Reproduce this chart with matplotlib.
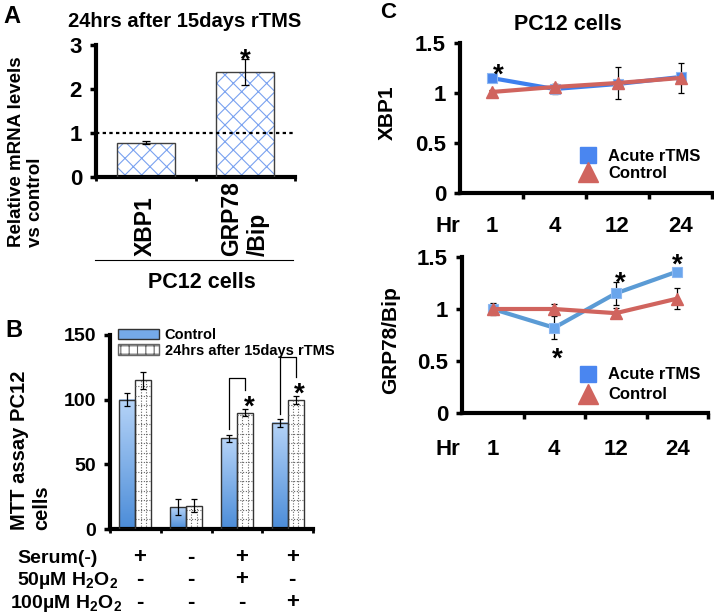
import numpy as np
import matplotlib
matplotlib.use('Agg')
import matplotlib.pyplot as plt
from matplotlib.colors import LinearSegmentedColormap
from matplotlib.lines import Line2D
from matplotlib.patches import Patch
from matplotlib.transforms import blended_transform_factory

plt.rcParams['font.family'] = ['Liberation Sans', 'DejaVu Sans']
plt.rcParams['font.weight'] = 'bold'
plt.rcParams['mathtext.fontset'] = 'custom'
plt.rcParams['mathtext.rm'] = 'Liberation Sans:bold'
plt.rcParams['mathtext.it'] = 'Liberation Sans:bold'
plt.rcParams['mathtext.bf'] = 'Liberation Sans:bold'
plt.rcParams['hatch.linewidth'] = 0.8

# ---------------- data ----------------
# A: relative mRNA, 24 h after 15 days rTMS
a_genes = ['XBP1', 'GRP78\n/Bip']
a_vals = [0.78, 2.39]
a_err = [0.04, 0.29]

# B: MTT assay
b_ctrl = [100, 17, 70, 82]
b_ctrl_err = [5, 6, 3, 3]
b_rtms = [115, 18, 90, 100]
b_rtms_err = [6.5, 5, 3, 3]
b_bracket_top = [117, 133]     # groups 3 and 4
b_serum = ['+', '-', '+', '+']
b_h2o2_50 = ['-', '-', '+', '-']
b_h2o2_100 = ['-', '-', '-', '+']

# C: time course
c_hours = ['1', '4', '12', '24']
xbp1_acute = [1.15, 1.04, 1.09, 1.16]
xbp1_acute_err = [0.02, 0.05, 0.03, 0.03]
xbp1_ctrl = [1.01, 1.06, 1.10, 1.15]
xbp1_ctrl_err = [0.02, 0.03, 0.16, 0.15]
grp_acute = [1.0, 0.82, 1.15, 1.36]
grp_acute_err = [0.05, 0.11, 0.11, 0.02]
grp_ctrl = [1.0, 1.0, 0.96, 1.10]
grp_ctrl_err = [0.06, 0.05, 0.05, 0.10]

W, H = 714, 616
fig = plt.figure(figsize=(W / 100, H / 100), dpi=100)


def px_axes(l, r, t, b):
    return fig.add_axes([l / W, 1 - b / H, (r - l) / W, (b - t) / H])


def ftext(x, y, s, **kw):
    return fig.text(x / W, 1 - y / H, s, **kw)


def style(ax, ysize):
    for s in ('top', 'right'):
        ax.spines[s].set_visible(False)
    for s in ('left', 'bottom'):
        ax.spines[s].set_linewidth(3)
    ax.tick_params(axis='y', length=4, width=2.5, direction='out', pad=6, labelsize=ysize)
    ax.tick_params(axis='x', length=3, width=2, direction='out', labelbottom=False)


def star(ax, x, y, size=20):
    ax.annotate('*', (x, y), xytext=(0, -0.57 * size), textcoords='offset points',
                ha='center', va='baseline', fontsize=size, annotation_clip=False)


def xlab(ax, x, ypx, s, **kw):
    tr = blended_transform_factory(ax.transData, fig.transFigure)
    ax.text(x, 1 - ypx / H, s, transform=tr, clip_on=False, **kw)


# ---------------- panel A ----------------
axA = px_axes(96, 295, 45, 177)
xa = np.arange(len(a_vals))
axA.bar(xa, a_vals, width=0.58, color='white', edgecolor='#7aa2f0', hatch='xx',
        linewidth=0, zorder=2)
axA.bar(xa, a_vals, width=0.58, fill=False, edgecolor='0.25', linewidth=1, zorder=3)
axA.errorbar(xa, a_vals, yerr=a_err, fmt='none', ecolor='black', elinewidth=0.9,
             capsize=3, capthick=0.9, zorder=4)
axA.axhline(1, color='black', ls=(0, (1.5, 1.5)), lw=1.6, zorder=5)
axA.set_xlim(-0.5, 1.5)
axA.set_ylim(0, 3)
axA.set_yticks([0, 1, 2, 3])
axA.set_xticks([-0.5, 0.5, 1.5])
style(axA, 16)
star(axA, 1, 2.84)
for xi, lab in zip(xa, a_genes):
    xlab(axA, xi, 256, lab, rotation=90, ha='center', va='bottom',
         multialignment='left', fontsize=16.5)
fig.add_artist(Line2D([95 / W, 293 / W], [1 - 260 / H] * 2, color='black', lw=0.8))
ftext(202, 288, 'PC12 cells', ha='center', va='baseline', fontsize=15.5)
ftext(185, 27, '24hrs after 15days rTMS', ha='center', va='baseline', fontsize=14.5)
ftext(26, 247, 'Relative mRNA levels\nvs control', rotation=90, ha='center',
      va='bottom', multialignment='left', fontsize=13.5)
ftext(3, 23, 'A', ha='left', va='baseline', fontsize=17)

# ---------------- panel B ----------------
axB = px_axes(110, 313, 335, 529)
gx = np.arange(len(b_ctrl))
w = 0.315
cmap = LinearSegmentedColormap.from_list('blu', ['#4b8cd8', '#b6d4f8'])
grad = np.linspace(0, 1, 256).reshape(-1, 1)
for i in range(len(gx)):
    x0 = gx[i] - w
    axB.imshow(grad, extent=[x0, gx[i], 0, b_ctrl[i]], origin='lower', aspect='auto',
               cmap=cmap, zorder=1)
axB.bar(gx - w / 2, b_ctrl, width=w, fill=False, edgecolor='0.2', linewidth=1, zorder=3)
axB.bar(gx + w / 2, b_rtms, width=w, color='white', edgecolor='0.2', linewidth=1, zorder=2)
for i in range(len(gx)):
    for f in (1 / 3, 2 / 3):
        axB.vlines(gx[i] + w * f, 0, b_rtms[i], color='0.4', lw=0.8,
                   ls=(0, (1, 1.5)), zorder=2.5)
    axB.hlines(np.arange(7.35, b_rtms[i], 7.35), gx[i], gx[i] + w, color='0.4', lw=0.8,
               ls=(0, (1, 1.5)), zorder=2.5)
axB.errorbar(gx - w / 2, b_ctrl, yerr=b_ctrl_err, fmt='none', ecolor='black',
             elinewidth=0.9, capsize=2.5, capthick=0.9, zorder=4)
axB.errorbar(gx + w / 2, b_rtms, yerr=b_rtms_err, fmt='none', ecolor='black',
             elinewidth=0.9, capsize=2.5, capthick=0.9, zorder=4)
for k, g in enumerate([2, 3]):
    top = b_bracket_top[k]
    yl = b_ctrl[g] + b_ctrl_err[g] + 4
    yr = b_rtms[g] + b_rtms_err[g] + 14.5
    axB.plot([g - w / 2, g - w / 2, g + w / 2, g + w / 2], [yl, top, top, yr],
             color='black', lw=0.9, zorder=4)
    star(axB, g + w / 2 + 0.08, b_rtms[g] + b_rtms_err[g] + 8)
axB.set_xlim(-0.5, 3.5)
axB.set_ylim(0, 150)
axB.set_yticks([0, 50, 100, 150])
axB.set_xticks([-0.5, 0.5, 1.5, 2.5, 3.5])
style(axB, 14)
axB.legend(handles=[Patch(facecolor='#75a9e8', edgecolor='0.2', lw=1, label='Control'),
                    Patch(facecolor='white', edgecolor='0.4', hatch='++', lw=1,
                          label='24hrs after 15days rTMS')],
           loc='center left', bbox_to_anchor=(0.04, 0.959), frameon=False, fontsize=10.5,
           handlelength=2.8, handleheight=0.75, handletextpad=0.4, labelspacing=0.1,
           borderpad=0, borderaxespad=0)
ftext(31, 530, 'MTT assay PC12\ncells', rotation=90, ha='center', va='bottom',
      multialignment='left', fontsize=14.5)
ftext(5, 337, 'B', ha='left', va='baseline', fontsize=17)

rows = [('Serum(-)', b_serum, 563, 98),
        (r'50µM H$_2$O$_2$', b_h2o2_50, 585, 118),
        (r'100µM H$_2$O$_2$', b_h2o2_100, 608, 122)]
for lab, signs, yb, xr in rows:
    ftext(xr, yb, lab, ha='right', va='baseline', fontsize=14)
    for i, s in enumerate(signs):
        xlab(axB, gx[i] + 0.09, yb, s, ha='center', va='baseline', fontsize=16)

# ---------------- panel C ----------------
blue_top = '#3d7fee'
blue_bot = '#5b9bd5'
red = '#d0645e'


def panel_c(ax, acute, acute_err, ctrl, ctrl_err, line_blue, mk_blue, base_px, ylab, ylab_xy):
    x = np.arange(len(c_hours))
    ax.errorbar(x, acute, yerr=acute_err, fmt='none', ecolor='black', elinewidth=0.9,
                capsize=2.5, capthick=0.9, zorder=2)
    ax.errorbar(x, ctrl, yerr=ctrl_err, fmt='none', ecolor='black', elinewidth=0.9,
                capsize=2.5, capthick=0.9, zorder=2)
    ax.plot(x, acute, color=line_blue, lw=3, marker='s', ms=7, mfc=mk_blue,
            mec='#8db8f2', mew=0.8, zorder=3)
    ax.plot(x, ctrl, color=red, lw=3, marker='^', ms=8, mfc=red, mec=red, zorder=4)
    ax.set_xlim(-0.5, 3.5)
    ax.set_ylim(0, 1.5)
    ax.set_yticks([0, 0.5, 1, 1.5])
    ax.set_yticklabels(['0', '0.5', '1', '1.5'])
    ax.set_xticks([0.5, 1.5, 2.5, 3.5])
    style(ax, 16)
    ax.tick_params(axis='x', length=4, width=2.5)
    for xi, lab in zip(x, c_hours):
        xlab(ax, xi, base_px, lab, ha='center', va='baseline', fontsize=16)
    ftext(448, base_px, 'Hr', ha='center', va='baseline', fontsize=16)
    ftext(ylab_xy[0], ylab_xy[1], ylab, rotation=90, ha='center', va='center', fontsize=15)


axC1 = px_axes(460, 712, 43, 193)
panel_c(axC1, xbp1_acute, xbp1_acute_err, xbp1_ctrl, xbp1_ctrl_err, blue_top, '#4a86ec',
        232, 'XBP1', (387, 113))
star(axC1, 0.1, 1.26)

axC2 = px_axes(462, 708, 257, 413)
panel_c(axC2, grp_acute, grp_acute_err, grp_ctrl, grp_ctrl_err, blue_bot, '#6aa6ec',
        455, 'GRP78/Bip', (391, 340))
star(axC2, 1.05, 0.6)
star(axC2, 2.07, 1.33)
star(axC2, 3.0, 1.5)

for ax, yc, xl, sp in [(axC1, 0.187, 0.476, 0.1), (axC2, 0.18, 0.48, 0.3)]:
    ax.legend(handles=[Line2D([], [], ls='', marker='s', ms=12, mfc='#4a86f0', mec='#4a86f0',
                              label='Acute rTMS'),
                       Line2D([], [], ls='', marker='^', ms=14, mfc=red, mec=red,
                              label='Control')],
              loc='center left', bbox_to_anchor=(xl, yc), frameon=False, fontsize=12,
              handlelength=1.0, handletextpad=0.68, labelspacing=sp, borderpad=0,
              borderaxespad=0)

ftext(568, 30, 'PC12 cells', ha='center', va='baseline', fontsize=15.5)
ftext(380, 18, 'C', ha='left', va='baseline', fontsize=16)

fig.savefig('out.png', dpi=100)
